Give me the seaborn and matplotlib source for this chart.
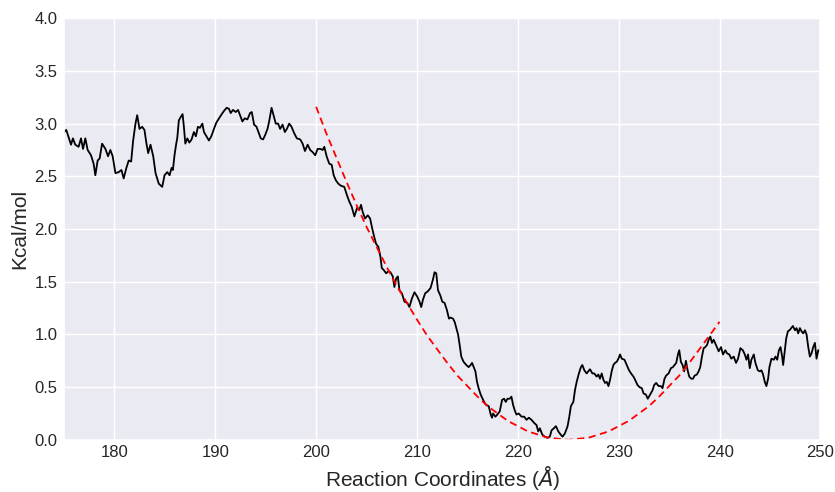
import matplotlib
matplotlib.use("Agg")
import matplotlib.pyplot as plt
import seaborn as sns
import pandas as pd

# Black free-energy profile
coord_x = [
    175.0, 175.23, 175.46, 175.70, 175.89, 176.12, 176.45, 176.69, 176.89, 177.12,
    177.35, 177.68, 177.94, 178.11, 178.34, 178.54, 178.78, 179.11, 179.37, 179.60,
    179.83, 180.10, 180.43, 180.70, 180.92, 181.19, 181.42, 181.66, 181.86, 182.09,
    182.26, 182.49, 182.75, 182.98, 183.18, 183.35, 183.58, 183.85, 184.08, 184.40,
    184.74, 184.97, 185.24, 185.47, 185.67, 185.80, 185.96, 186.13, 186.23, 186.39,
    186.56, 186.76, 186.89, 187.03, 187.23, 187.43, 187.65, 187.88, 188.08, 188.28,
    188.48, 188.72, 188.88, 189.12, 189.37, 189.61, 189.87, 190.11, 190.37, 190.64,
    190.86, 191.13, 191.36, 191.53, 191.76, 192.03, 192.26, 192.46, 192.69, 192.92,
    193.19, 193.45, 193.62, 193.85, 194.09, 194.28, 194.51, 194.74, 194.94, 195.18,
    195.34, 195.58, 195.78, 196.00, 196.23, 196.43, 196.67, 196.90, 197.10, 197.33,
    197.56, 197.82, 198.09, 198.42, 198.66, 198.89, 199.16, 199.41, 199.65, 199.91,
    200.15, 200.41, 200.65, 200.81, 201.04, 201.30, 201.54, 201.74, 201.97, 202.20,
    202.47, 202.79, 203.06, 203.29, 203.53, 203.79, 204.06, 204.28, 204.45, 204.62,
    204.85, 205.12, 205.35, 205.55, 205.72, 205.94, 206.17, 206.37, 206.51, 206.71,
    206.94, 207.17, 207.37, 207.60, 207.76, 207.93, 208.10, 208.26, 208.50, 208.76,
    209.03, 209.25, 209.49, 209.75, 210.02, 210.25, 210.42, 210.59, 210.81, 211.08,
    211.34, 211.58, 211.74, 211.91, 212.08, 212.31, 212.51, 212.73, 212.97, 213.17,
    213.33, 213.57, 213.73, 213.90, 214.07, 214.23, 214.39, 214.62, 214.89, 215.12,
    215.32, 215.46, 215.62, 215.79, 215.95, 216.11, 216.31, 216.55, 216.71, 216.88,
    217.11, 217.31, 217.44, 217.54, 217.77, 217.97, 218.20, 218.44, 218.64, 218.80,
    218.97, 219.19, 219.36, 219.53, 219.69, 219.86, 220.09, 220.36, 220.63, 220.85,
    221.09, 221.35, 221.62, 221.85, 222.02, 222.18, 222.42, 222.67, 222.91, 223.17,
    223.34, 223.57, 223.77, 224.01, 224.24, 224.43, 224.66, 224.93, 225.10, 225.26,
    225.50, 225.66, 225.83, 226.05, 226.25, 226.39, 226.59, 226.82, 226.99, 227.15,
    227.39, 227.58, 227.81, 227.98, 228.14, 228.31, 228.48, 228.64, 228.81, 228.98,
    229.14, 229.30, 229.47, 229.63, 229.80, 229.97, 230.13, 230.30, 230.57, 230.80,
    231.02, 231.22, 231.46, 231.62, 231.86, 232.06, 232.29, 232.46, 232.69, 232.88,
    233.11, 233.35, 233.51, 233.71, 233.95, 234.18, 234.34, 234.54, 234.70, 234.94,
    235.17, 235.37, 235.54, 235.70, 235.87, 236.00, 236.16, 236.33, 236.49, 236.66,
    236.83, 236.99, 237.19, 237.36, 237.53, 237.75, 237.92, 238.08, 238.25, 238.42,
    238.58, 238.75, 238.92, 239.08, 239.24, 239.41, 239.64, 239.91, 240.14, 240.34,
    240.57, 240.74, 240.96, 241.16, 241.40, 241.63, 241.83, 242.06, 242.30, 242.50,
    242.66, 242.82, 242.99, 243.15, 243.39, 243.55, 243.79, 243.99, 244.15, 244.31,
    244.48, 244.64, 244.81, 244.94, 245.14, 245.38, 245.54, 245.71, 245.88, 246.04,
    246.20, 246.30, 246.47, 246.60, 246.77, 246.93, 247.10, 247.27, 247.47, 247.63,
    247.79, 247.96, 248.12, 248.29, 248.46, 248.62, 248.79, 248.95, 249.11, 249.28,
    249.45, 249.61, 249.78, 249.91, 250.0,
]
energy = [
    2.92, 2.94, 2.87, 2.80, 2.86, 2.80, 2.78, 2.86, 2.76, 2.86,
    2.75, 2.70, 2.62, 2.51, 2.65, 2.67, 2.81, 2.76, 2.69, 2.75,
    2.69, 2.53, 2.54, 2.56, 2.48, 2.58, 2.65, 2.64, 2.84, 3.00,
    3.08, 2.95, 2.97, 2.94, 2.81, 2.72, 2.80, 2.69, 2.53, 2.43,
    2.40, 2.51, 2.54, 2.51, 2.58, 2.56, 2.70, 2.81, 2.86, 3.03,
    3.06, 3.09, 2.97, 2.81, 2.86, 2.82, 2.85, 2.92, 2.88, 2.97,
    2.96, 3.00, 2.92, 2.88, 2.84, 2.88, 2.95, 3.01, 3.05, 3.09,
    3.12, 3.15, 3.14, 3.10, 3.13, 3.11, 3.13, 3.08, 3.02, 3.05,
    3.04, 3.10, 3.11, 2.99, 2.97, 2.92, 2.86, 2.85, 2.89, 2.95,
    3.02, 3.15, 3.08, 3.00, 3.00, 2.95, 2.99, 2.92, 2.95, 3.00,
    2.97, 2.91, 2.86, 2.85, 2.81, 2.74, 2.80, 2.75, 2.73, 2.70,
    2.76, 2.76, 2.75, 2.78, 2.69, 2.62, 2.61, 2.51, 2.46, 2.43,
    2.41, 2.40, 2.32, 2.26, 2.21, 2.12, 2.20, 2.18, 2.23, 2.16,
    2.10, 2.13, 2.10, 2.01, 1.94, 1.86, 1.83, 1.74, 1.63, 1.61,
    1.58, 1.60, 1.59, 1.55, 1.45, 1.53, 1.55, 1.42, 1.39, 1.31,
    1.30, 1.26, 1.34, 1.40, 1.36, 1.31, 1.26, 1.33, 1.39, 1.41,
    1.44, 1.52, 1.59, 1.58, 1.42, 1.37, 1.31, 1.30, 1.23, 1.15,
    1.16, 1.15, 1.12, 1.06, 1.00, 0.90, 0.79, 0.74, 0.71, 0.69,
    0.71, 0.73, 0.69, 0.65, 0.55, 0.49, 0.43, 0.38, 0.35, 0.33,
    0.32, 0.24, 0.21, 0.25, 0.22, 0.24, 0.27, 0.38, 0.39, 0.36,
    0.39, 0.39, 0.41, 0.33, 0.28, 0.24, 0.25, 0.22, 0.22, 0.19,
    0.21, 0.19, 0.16, 0.14, 0.08, 0.11, 0.05, 0.03, 0.02, 0.03,
    0.09, 0.11, 0.13, 0.08, 0.05, 0.03, 0.06, 0.13, 0.22, 0.32,
    0.36, 0.47, 0.55, 0.63, 0.69, 0.71, 0.66, 0.63, 0.65, 0.67,
    0.63, 0.63, 0.60, 0.62, 0.58, 0.63, 0.57, 0.54, 0.55, 0.51,
    0.57, 0.65, 0.71, 0.73, 0.74, 0.77, 0.81, 0.77, 0.76, 0.71,
    0.66, 0.63, 0.60, 0.57, 0.52, 0.50, 0.49, 0.44, 0.43, 0.39,
    0.43, 0.47, 0.52, 0.54, 0.51, 0.51, 0.49, 0.58, 0.61, 0.63,
    0.68, 0.69, 0.71, 0.73, 0.81, 0.85, 0.74, 0.71, 0.65, 0.75,
    0.66, 0.60, 0.58, 0.58, 0.61, 0.62, 0.65, 0.69, 0.79, 0.87,
    0.88, 0.90, 0.95, 0.98, 0.92, 0.95, 0.90, 0.84, 0.88, 0.81,
    0.85, 0.82, 0.81, 0.77, 0.79, 0.73, 0.77, 0.87, 0.85, 0.81,
    0.76, 0.81, 0.68, 0.76, 0.81, 0.73, 0.66, 0.65, 0.66, 0.62,
    0.55, 0.51, 0.58, 0.69, 0.77, 0.76, 0.79, 0.76, 0.85, 0.88,
    0.79, 0.71, 0.85, 0.96, 1.03, 1.04, 1.06, 1.08, 1.04, 1.06,
    1.01, 1.06, 1.03, 1.01, 1.04, 1.00, 0.88, 0.79, 0.82, 0.88,
    0.92, 0.77, 0.85, 0.84, 0.90,
]

# Red dashed fitted well
fit_x = [200, 201, 202, 203, 204, 205, 206, 207, 208, 209, 210, 211, 212, 213,
         214, 215, 216, 217, 218, 219, 220, 221, 222, 223, 224, 225, 226, 227,
         228, 229, 230, 231, 232, 233, 234, 235, 236, 237, 238, 239, 240]
fit_y = [3.16, 2.91, 2.68, 2.45, 2.23, 2.02, 1.83, 1.64, 1.46, 1.30, 1.14, 0.99,
         0.86, 0.73, 0.61, 0.51, 0.41, 0.32, 0.25, 0.18, 0.13, 0.08, 0.05, 0.02,
         0.01, 0.00, 0.01, 0.02, 0.05, 0.08, 0.13, 0.18, 0.25, 0.32, 0.41, 0.51,
         0.61, 0.73, 0.86, 0.99, 1.12]

x_ticks = [180, 190, 200, 210, 220, 230, 240, 250]
y_ticks = [0.0, 0.5, 1.0, 1.5, 2.0, 2.5, 3.0, 3.5, 4.0]

sns.set_theme(style="darkgrid")
plt.rcParams["font.family"] = ["Liberation Sans", "DejaVu Sans"]

fig = plt.figure(figsize=(8.35, 4.92), dpi=100)
ax = fig.add_axes([0.0766, 0.106, 0.906, 0.857])

prof = pd.DataFrame({"x": coord_x, "y": energy})
fit = pd.DataFrame({"x": fit_x, "y": fit_y})

sns.lineplot(data=prof, x="x", y="y", color="black", linewidth=1.3,
             estimator=None, sort=False, ax=ax)
sns.lineplot(data=fit, x="x", y="y", color="red", linewidth=1.3,
             linestyle=(0, (4, 2.5)), estimator=None, sort=False, ax=ax)

ax.set_xlim(175, 250)
ax.set_ylim(0, 4)
ax.set_xticks(x_ticks)
ax.set_xticklabels([str(t) for t in x_ticks])
ax.set_yticks(y_ticks)
ax.set_yticklabels([f"{t:.1f}" for t in y_ticks])
ax.tick_params(axis="x", labelsize=12, colors="#262626", length=0, pad=3.5)
ax.tick_params(axis="y", labelsize=12, colors="#262626", length=0, pad=4.5)
ax.set_xlabel("Reaction Coordinates ($\\AA$)", fontsize=15, color="#262626",
              labelpad=3)
ax.set_ylabel("Kcal/mol", fontsize=15, color="#262626", labelpad=4)

fig.savefig("out.png", dpi=100)
